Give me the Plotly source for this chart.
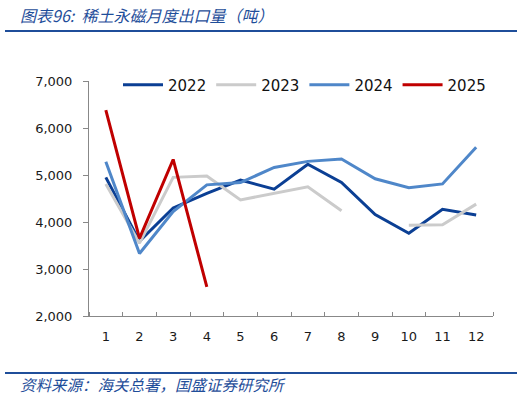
import plotly.graph_objects as go

months = list(range(1, 13))
month_labels = [str(m) for m in months]
s2022 = [4950, 3590, 4300, 4610, 4890, 4700, 5230, 4840, 4160, 3760, 4270, 4150]
s2023 = [4810, 3550, 4950, 4980, 4470, 4610, 4750, 4240, None, 3930, 3940, 4380]
s2024 = [5280, 3330, 4220, 4790, 4840, 5160, 5290, 5340, 4920, 4730, 4810, 5590]
s2025 = [6380, 3650, 5330, 2620]
series = [("2022", s2022, "#0B3F94"), ("2023", s2023, "#CBCBCB"),
          ("2024", s2024, "#4F87C9"), ("2025", s2025, "#C00000")]

fig = go.Figure()
for name, vals, col in series:
    fig.add_trace(go.Scatter(x=months[:len(vals)], y=vals, name=name, mode="lines",
                             line=dict(color=col, width=3), connectgaps=False))

W, H = 404, 235
L, T = 89, 81
font = dict(family="DejaVu Sans", size=13, color="#1a1a1a")
fig.update_layout(
    width=526, height=398, margin=dict(l=L, r=33, t=T, b=82, autoexpand=False),
    paper_bgcolor="white", plot_bgcolor="white", font=font,
    showlegend=True,
    legend=dict(orientation="h", x=(118 - L) / W, y=1 + (T - 85) / H, xanchor="left", yanchor="middle",
                font=dict(family="DejaVu Sans", size=15, color="#111"),
                itemwidth=40, bgcolor="rgba(0,0,0,0)"),
    xaxis=dict(range=[0.5, 12.5], tickmode="array", tickvals=months, ticktext=month_labels,
               showline=True, linecolor="#888", linewidth=1, ticks="", showgrid=False,
               zeroline=False, ticklabelstandoff=8,
               minor=dict(tickmode="linear", tick0=0.5, dtick=1, ticks="inside",
                          ticklen=4, tickcolor="#888", showgrid=False)),
    yaxis=dict(range=[2000, 7000], dtick=1000, tickformat=",", showline=True,
               linecolor="#888", linewidth=1, ticks="outside", ticklen=5,
               tickcolor="#888", showgrid=False, zeroline=False, ticklabelstandoff=8),
)

fig.add_annotation(text="<i>图表96:  稀土永磁月度出口量（吨）</i>", xref="paper", yref="paper",
                   x=(18 - L) / W, y=1 + (T - 15) / H, xanchor="left", yanchor="middle",
                   showarrow=False, font=dict(family="Noto Sans CJK SC", size=16, color="#1F4E9A"))
fig.add_annotation(text="<i>资料来源：海关总署，国盛证券研究所</i>", xref="paper", yref="paper",
                   x=(18 - L) / W, y=-(384 - 316) / H, xanchor="left", yanchor="middle",
                   showarrow=False, font=dict(family="Noto Sans CJK SC", size=15.5, color="#1F4E9A"))
fig.add_shape(type="line", xref="paper", yref="paper", x0=(5 - L) / W, x1=(517 - L) / W,
              y0=1 + (T - 31) / H, y1=1 + (T - 31) / H, line=dict(color="#1F4E9A", width=2))
fig.add_shape(type="line", xref="paper", yref="paper", x0=(5 - L) / W, x1=(517 - L) / W,
              y0=-(373 - 316) / H, y1=-(373 - 316) / H, line=dict(color="#1F4E9A", width=2))

fig.write_html("out.html", config={"displayModeBar": False},
               post_script="document.body.style.margin='0';")
